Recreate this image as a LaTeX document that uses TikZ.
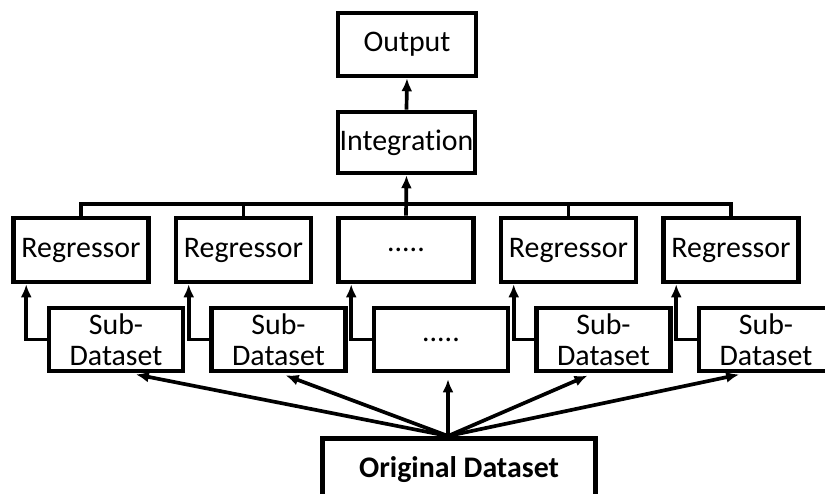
\documentclass[tikz,border=0pt]{standalone}
\usepackage{fontspec}
\setmainfont{Carlito}[Ligatures=NoCommon]
\usepackage{tikz}
\usetikzlibrary{arrows.meta,positioning}
\tikzstyle{block}=[draw,%
                   rectangle,%
                   line width    = 2.6pt,%
                   inner sep     = 0pt,%
                   font          = \fontsize{17}{17.5}\selectfont,%
                   align         = center]
\tikzstyle{regbox}=[block, minimum width=2.7cm, minimum height=1.28cm, node distance=3.25cm]
\tikzstyle{subbox}=[block, minimum width=2.68cm, minimum height=1.26cm, node distance=3.25cm]
\tikzstyle{link}=[line width=2.1pt, -{Latex[length=0.26cm,width=0.22cm]}]

\begin{document}
\begin{tikzpicture}
            \useasboundingbox (0,0) rectangle (16.5,-9.88);
            \node[block, minimum width=2.76cm, minimum height=1.26cm] (out) at (8.14,-0.89) {Output};
            \node[block, minimum width=2.74cm, minimum height=1.22cm] (integ) at (8.13,-2.85) {Integration};
            \node[regbox] (r1) at (1.62,-5.0) {Regressor};
            \node[regbox][right of=r1] (r2) {Regressor};
            \node[regbox][right of=r2] (r3) {.....};
            \node[regbox][right of=r3] (r4) {Regressor};
            \node[regbox][right of=r4] (r5) {Regressor};
            \node[subbox] (s1) at (2.32,-6.79) {Sub-\\Dataset};
            \node[subbox][right of=s1] (s2) {Sub-\\Dataset};
            \node[subbox][right of=s2] (s3) {.....};
            \node[subbox][right of=s3] (s4) {Sub-\\Dataset};
            \node[subbox][right of=s4] (s5) {Sub-\\Dataset};
            \node[block, anchor=north, minimum width=5.46cm, minimum height=1.25cm,
                  font=\fontsize{17}{17.5}\selectfont\bfseries] (orig) at (9.18,-8.72) {Original Dataset};
            % regressors to integration
            \coordinate (bus) at ([yshift=0.24cm]r1.north);
            \draw [line width=2.1pt] (r1.north) -- (bus) -| (r5.north);
            \draw [line width=2.1pt] (r2.north) -- (r2.north |- bus);
            \draw [line width=2.1pt] (r4.north) -- (r4.north |- bus);
            \draw [link] (r3.north) -- (integ.south);
            \draw [link] (integ.north) -- (out.south);
            % sub-datasets to regressors
            \draw [link] (s1.west) -| ([xshift=0.3cm]r1.south west);
            \draw [link] (s2.west) -| ([xshift=0.3cm]r2.south west);
            \draw [link] (s3.west) -| ([xshift=0.3cm]r3.south west);
            \draw [link] (s4.west) -| ([xshift=0.3cm]r4.south west);
            \draw [link] (s5.west) -| ([xshift=0.3cm]r5.south west);
            % original dataset to sub-datasets
            \coordinate (src) at ([xshift=-0.22cm]orig.north);
            \draw [link, shorten >=0.12cm] (src) -- ([xshift=0.28cm]s1.south);
            \draw [link, shorten >=0.12cm] (src) -- ([xshift=0.03cm]s2.south);
            \draw [link, shorten >=0.12cm] (src) -- (src |- s3.south);
            \draw [link, shorten >=0.12cm] (src) -- ([xshift=-0.21cm]s4.south);
            \draw [link, shorten >=0.12cm] (src) -- ([xshift=-0.42cm]s5.south);
  \end{tikzpicture}
\end{document}
